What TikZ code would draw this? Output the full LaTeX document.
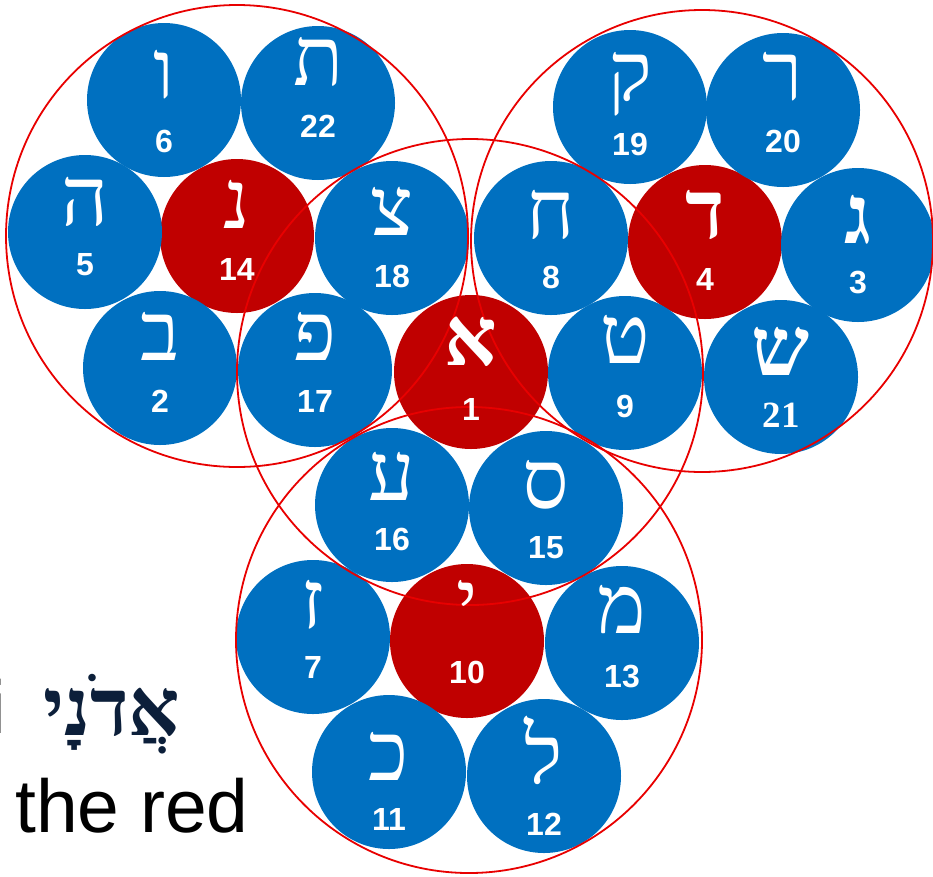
\documentclass[tikz,border=0pt]{standalone}
\usepackage{fontspec}
\setmainfont{Liberation Sans}
\newfontfamily\hebfont[Script=Hebrew]{Liberation Serif}
\newfontfamily\numfont{Liberation Sans}
\TeXXeTstate=1
\definecolor{discblue}{HTML}{0070C0}
\definecolor{discred}{HTML}{C00000}
\definecolor{ringred}{RGB}{232,0,0}
\definecolor{navy}{HTML}{0C1F3A}
\pgfdeclarelayer{back}
\pgfdeclarelayer{front}
\pgfsetlayers{back,main,front}
\tikzset{
  disc/.style={circle, minimum size=154pt, inner sep=0pt, draw=none},
  heb/.style={inner sep=0pt, anchor=base, text=white, font=\hebfont\fontsize{82}{82}\selectfont},
  num/.style={inner sep=0pt, anchor=base, text=white, font=\numfont\bfseries\fontsize{32}{32}\selectfont},
  ring/.style={draw=ringred, line width=1.8pt}
}
\newcommand\mydisc[8]{%
  \begin{pgfonlayer}{back}
    \node[disc, fill=#4] (#1) at (#2,#3) {};
  \end{pgfonlayer}
  \begin{pgfonlayer}{front}
    \node[heb] (#1-l) at (#2,#6) {#5};
    \node[num] (#1-n) at (#2,#8) {#7};
  \end{pgfonlayer}
}
\begin{document}
\begin{tikzpicture}[x=1pt,y=-1pt]
\useasboundingbox (0,0) rectangle (933,876);
% left group
\mydisc{nun}{237}{236}{discred}{נ}{228}{14}{280}
\mydisc{vav}{164}{100}{discblue}{ו}{98}{6}{152}
\mydisc{tav}{318}{103}{discblue}{ת}{85}{22}{137}
\mydisc{he}{85}{232}{discblue}{ה}{225}{5}{275}
\mydisc{tsadi}{392}{238}{discblue}{צ}{235}{18}{287}
\mydisc{bet}{160}{368}{discblue}{ב}{360}{2}{412}
\mydisc{pe}{315}{370}{discblue}{פ}{360}{17}{412}
% right group
\mydisc{dalet}{705}{242}{discred}{\bfseries ד}{238}{4}{290}
\mydisc{qof}{630}{107}{discblue}{ק}{100}{19}{155}
\mydisc{resh}{783}{110}{discblue}{ר}{100}{20}{152}
\mydisc{het}{551}{238}{discblue}{ח}{238}{8}{288}
\mydisc{gimel}{858}{245}{discblue}{\bfseries ג}{243}{3}{293}
\mydisc{tet}{625}{373}{discblue}{ט}{363}{9}{417}
\mydisc{shin}{781}{377}{discblue}{\bfseries ש}{375}{\hebfont\bfseries\fontsize{37}{37}\selectfont 21}{427}
% centre
\mydisc{alef}{471}{372}{discred}{\bfseries א}{365}{1}{420}
% bottom group
\mydisc{ayin}{392}{505}{discblue}{ע}{500}{16}{550}
\mydisc{samekh}{546}{508}{discblue}{ס}{508}{15}{558}
\mydisc{zayin}{313}{637}{discblue}{ז}{628}{7}{678}
\mydisc{yod}{467}{641}{discred}{י}{628}{10}{683}
\mydisc{mem}{622}{643}{discblue}{מ}{633}{13}{687}
\mydisc{kaf}{389}{772}{discblue}{כ}{780}{11}{830}
\mydisc{lamed}{544}{776}{discblue}{ל}{783}{12}{835}
% red rings
\draw[ring] (nun.center) circle[radius=231];
\draw[ring] (702,241) circle[radius=231];
\draw[ring] (470,372) circle[radius=233];
\draw[ring] (469,640) circle[radius=233];
% texts
\node[inner sep=0pt, anchor=base, text=navy, font=\hebfont\bfseries\fontsize{80}{80}\selectfont] (adonai) at (111.5,735) {\beginR אֲדֹנָי\endR};
\node[inner sep=0pt, anchor=base east, text=black!70, font=\fontsize{75}{75}\selectfont] (icut) at (6,733) {i};
\node[inner sep=0pt, anchor=base west, text=black, font=\fontsize{75}{75}\selectfont] (thered) at (15,832) {the red};
\end{tikzpicture}
\end{document}
